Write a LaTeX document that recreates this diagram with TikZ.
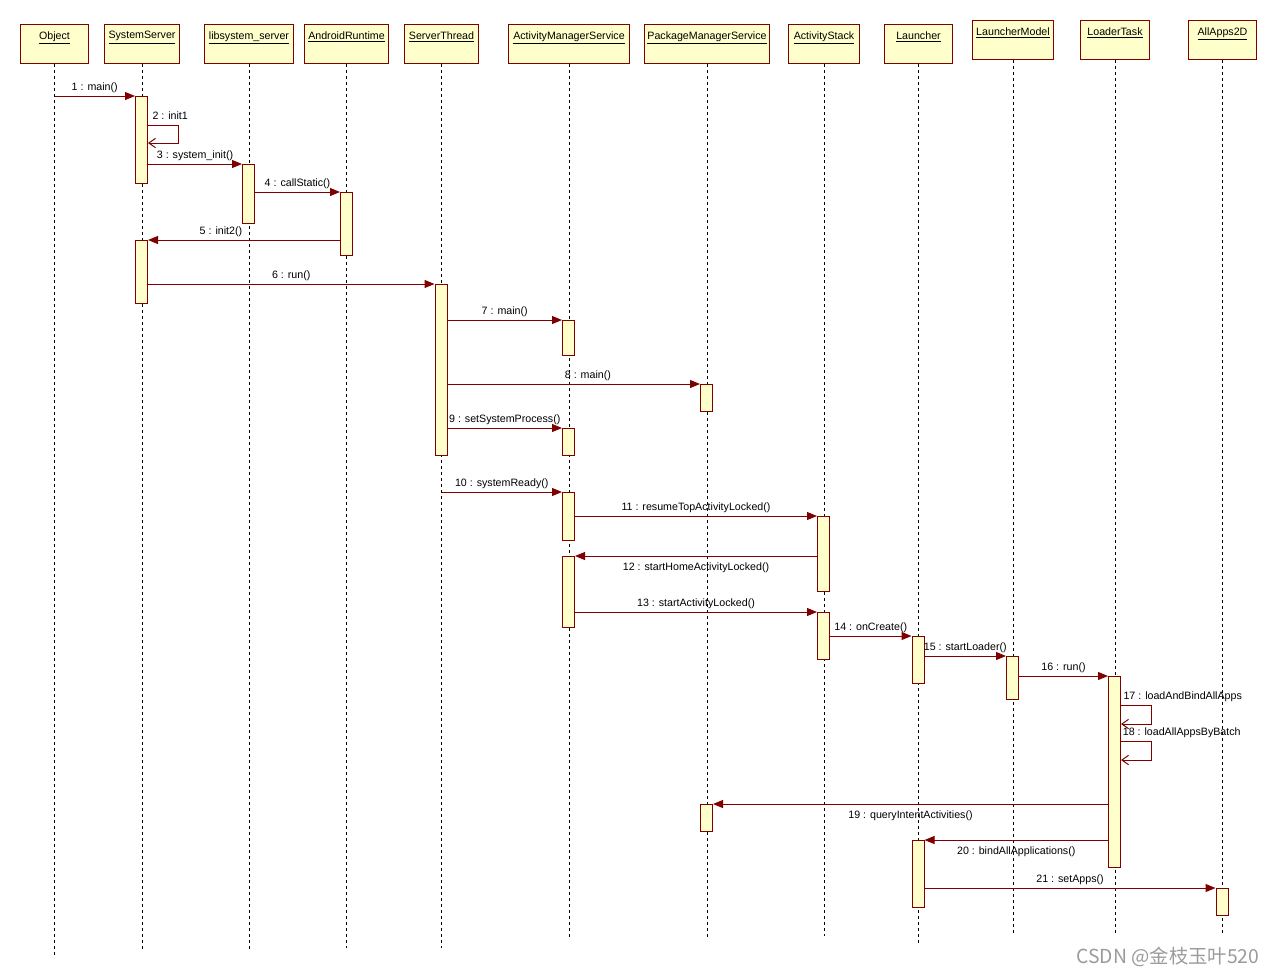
\documentclass[tikz,border=0pt]{standalone}
\usepackage{fontspec}
\setmainfont{Liberation Sans}
\newfontfamily\cjk{Noto Sans CJK SC}
\usetikzlibrary{arrows.meta}
\definecolor{umlred}{RGB}{128,0,0}
\definecolor{umlfill}{RGB}{255,255,204}
\definecolor{markgray}{RGB}{155,155,155}
\newcommand{\upx}{0.75pt}

\begin{document}
\begin{tikzpicture}[
    x=0.75pt, y=-0.75pt,
    every node/.style={font=\fontsize{8}{9.6}\selectfont},
    head/.style={draw=umlred, fill=umlfill, line width=0.75pt, minimum height=39*\upx, inner sep=0, anchor=north west,
        label={[anchor=north, inner sep=0, yshift=-7*\upx]north:\underline{#1}}},
    lifeline/.style={line width=0.75pt, dash pattern=on 2.25pt off 2.25pt},
    act/.style={draw=umlred, fill=umlfill, line width=0.75pt, minimum width=12*\upx, inner sep=0, anchor=north},
    call/.style={umlred, line width=0.75pt, -{Triangle[length=7.5pt, width=6pt]}},
    selfcall/.style={umlred, line width=0.75pt, -{Straight Barb[length=5pt, width=7pt]}},
    msg/.style={black, inner sep=0}
]

\path[fill=white] (0,0) rectangle (1277,976);

% Objects
\node[head=Object, minimum width=68*\upx] (object) at (20,24) {};
\node[head=SystemServer, minimum width=75*\upx] (systemserver) at (104,24) {};
\node[head=libsystem\_server, minimum width=89*\upx] (libsystem) at (204,24) {};
\node[head=AndroidRuntime, minimum width=84*\upx] (runtime) at (304,24) {};
\node[head=ServerThread, minimum width=74*\upx] (serverthread) at (404,24) {};
\node[head=ActivityManagerService, minimum width=121*\upx] (ams) at (508,24) {};
\node[head=PackageManagerService, minimum width=125*\upx] (pms) at (644,24) {};
\node[head=ActivityStack, minimum width=71*\upx] (stack) at (788,24) {};
\node[head=Launcher, minimum width=68*\upx] (launcher) at (884,24) {};
\node[head=LauncherModel, minimum width=81*\upx] (model) at (972,20) {};
\node[head=LoaderTask, minimum width=69*\upx] (loader) at (1080,20) {};
\node[head=AllApps2D, minimum width=68*\upx] (allapps) at (1188,20) {};

% Lifelines
\foreach \n/\e in {object/955, systemserver/950, libsystem/950, runtime/948, serverthread/948,
                   ams/938, pms/938, stack/936, launcher/943, model/933, loader/933, allapps/935} {
    \coordinate (\n end) at (\n.south |- 0,\e);
    \draw[lifeline] (\n.south) -- (\n end);
}

% Activations
\node[act, minimum height=87*\upx] (ss1) at (141.5,96) {};
\node[act, minimum height=63*\upx] (ss2) at (141.5,240) {};
\node[act, minimum height=59*\upx] (lib1) at (248.5,164) {};
\node[act, minimum height=63*\upx] (rt1) at (346.5,192) {};
\node[act, minimum height=171*\upx] (st1) at (441,284) {};
\node[act, minimum height=35*\upx] (ams1) at (568.5,320) {};
\node[act, minimum height=27*\upx] (pms1) at (706.5,384) {};
\node[act, minimum height=27*\upx] (ams2) at (568.5,428) {};
\node[act, minimum height=48*\upx] (ams3) at (568.5,492) {};
\node[act, minimum height=75*\upx] (as1) at (823.5,516) {};
\node[act, minimum height=71*\upx] (ams4) at (568.5,556) {};
\node[act, minimum height=47*\upx] (as2) at (823.5,612) {};
\node[act, minimum height=47*\upx] (la1) at (918,636) {};
\node[act, minimum height=43*\upx] (lm1) at (1012.5,656) {};
\node[act, minimum height=191*\upx] (lt1) at (1114.5,676) {};
\node[act, minimum height=27*\upx] (pms2) at (706.5,804) {};
\node[act, minimum height=67*\upx] (la2) at (918,840) {};
\node[act, minimum height=27*\upx] (aa1) at (1222,888) {};

% Messages
\draw[call] (object.south |- ss1.north) -- (ss1.north west) node[msg, midway, above=2pt] {1 : main()};
\draw[selfcall] (ss1.north east) ++(0,29) node[msg, anchor=south west, xshift=3pt, yshift=4pt] {2 : init1}
    -- ++(30,0) -- ++(0,18) -- ++(-30,0);
\draw[call] (ss1.east |- lib1.north) -- (lib1.north west) node[msg, midway, above=2pt] {3 : system\_init()};
\draw[call] (lib1.east |- rt1.north) -- (rt1.north west) node[msg, midway, above=2pt] {4 : callStatic()};
\draw[call] (rt1.west |- ss2.north) -- (ss2.north east) node[msg, pos=0.62, above=2pt] {5 : init2()};
\draw[call] (ss2.east |- st1.north) -- (st1.north west) node[msg, midway, above=2pt] {6 : run()};
\draw[call] (st1.east |- ams1.north) -- (ams1.north west) node[msg, midway, above=2pt] {7 : main()};
\draw[call] (st1.east |- pms1.north) -- (pms1.north west) node[msg, pos=0.556, above=2pt] {8 : main()};
\draw[call] (st1.east |- ams2.north) -- (ams2.north west) node[msg, midway, above=2pt] {9 : setSystemProcess()};
\draw[call] (serverthread.south |- ams3.north) -- (ams3.north west) node[msg, midway, above=2pt] {10 : systemReady()};
\draw[call] (ams3.east |- as1.north) -- (as1.north west) node[msg, midway, above=2pt] {11 : resumeTopActivityLocked()};
\draw[call] (as1.west |- ams4.north) -- (ams4.north east) node[msg, midway, below=4.5pt] {12 : startHomeActivityLocked()};
\draw[call] (ams4.east |- as2.north) -- (as2.north west) node[msg, midway, above=2pt] {13 : startActivityLocked()};
\draw[call] (as2.east |- la1.north) -- (la1.north west) node[msg, midway, above=2pt] {14 : onCreate()};
\draw[call] (la1.east |- lm1.north) -- (lm1.north west) node[msg, midway, above=2pt] {15 : startLoader()};
\draw[call] (lm1.east |- lt1.north) -- (lt1.north west) node[msg, midway, above=2pt] {16 : run()};
\draw[selfcall] (lt1.north east) ++(0,29) node[msg, anchor=south west, xshift=1.5pt, yshift=2pt] {17 : loadAndBindAllApps}
    -- ++(30,0) -- ++(0,19) -- ++(-30,0);
\draw[selfcall] (lt1.north east) ++(0,65) node[msg, anchor=south west, xshift=1pt, yshift=2pt] {18 : loadAllAppsByBatch}
    -- ++(30,0) -- ++(0,19) -- ++(-30,0);
\draw[call] (lt1.west |- pms2.north) -- (pms2.north east) node[msg, midway, below=5pt] {19 : queryIntentActivities()};
\draw[call] (lt1.west |- la2.north) -- (la2.north east) node[msg, midway, below=4.5pt] {20 : bindAllApplications()};
\draw[call] (la2.east |- aa1.north) -- (aa1.north west) node[msg, midway, above=2pt] {21 : setApps()};

% Watermark
\node[markgray, font=\cjk\fontsize{14.5}{17}\selectfont, inner sep=0] (mark) at (1168,957) {CSDN @金枝玉叶520};

\end{tikzpicture}
\end{document}
